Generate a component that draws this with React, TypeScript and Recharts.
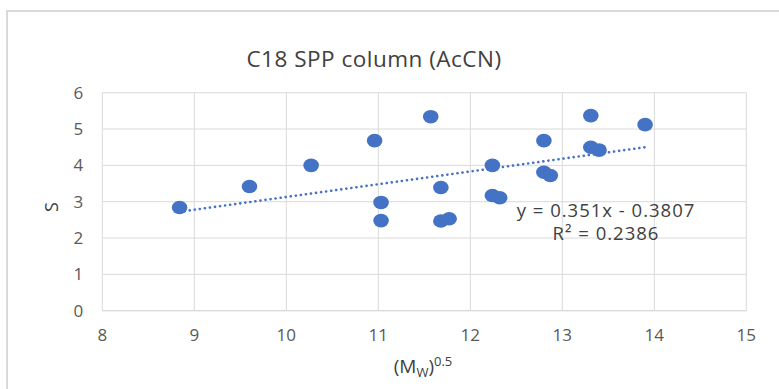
import React from 'react';
import { ScatterChart, Scatter, XAxis, YAxis, CartesianGrid, ReferenceLine } from 'recharts';

// (Mw)^0.5 values and S values
const mwRoot = [8.84, 9.6, 10.27, 10.96, 11.03, 11.03, 11.57, 11.68, 11.68, 11.77, 12.24, 12.24, 12.32, 12.8, 12.8, 12.87, 13.31, 13.31, 13.4, 13.9];
const sValues = [2.84, 3.42, 4.0, 4.68, 2.98, 2.48, 5.34, 3.39, 2.47, 2.53, 4.0, 3.17, 3.11, 4.68, 3.81, 3.72, 5.37, 4.5, 4.42, 5.12];

const xTicks = [8, 9, 10, 11, 12, 13, 14, 15];
const yTicks = [0, 1, 2, 3, 4, 5, 6];

// linear trendline as printed on the chart
const trendSlope = 0.351;
const trendIntercept = -0.3807;
const trendEquation = 'y = 0.351x - 0.3807';
const trendR2 = 'R² = 0.2386';

const points = mwRoot.map((x, i) => ({ x, y: sValues[i] }));
const xMin = Math.min(...mwRoot);
const xMax = Math.max(...mwRoot);
const trendSegment = [
  { x: xMin, y: trendSlope * xMin + trendIntercept },
  { x: xMax, y: trendSlope * xMax + trendIntercept },
];

const BLUE = '#4472C4';
const FONT = '"Open Sans", "Liberation Sans", sans-serif';

const Dot = (props: any) => {
  const { cx, cy } = props;
  return <ellipse cx={cx} cy={cy} rx={7.8} ry={6.8} fill={BLUE} />;
};

export default function App() {
  return (
    <div style={{ position: 'absolute', left: 0, top: 0, width: 779, height: 389, overflow: 'hidden', background: '#fff', fontFamily: FONT }}>
      <div style={{ position: 'absolute', left: 6, top: 10, width: 800, height: 400, borderLeft: '2px solid #d9d9d9', borderTop: '2px solid #d9d9d9' }} />
      <ScatterChart
        width={779}
        height={389}
        margin={{ top: 92.7, right: 32.7, left: 42.3, bottom: 38.3 }}
        style={{ position: 'absolute', left: 0, top: 0 }}
      >
        <CartesianGrid stroke="#d9d9d9" />
        <XAxis
          type="number"
          dataKey="x"
          domain={[8, 15]}
          ticks={xTicks}
          height={40}
          tickSize={0}
          tickMargin={18}
          axisLine={{ stroke: '#d9d9d9' }}
          tick={{ fill: '#595959', fontSize: 17, fontFamily: FONT }}
        />
        <YAxis
          type="number"
          dataKey="y"
          domain={[0, 6]}
          ticks={yTicks}
          width={60}
          tickSize={0}
          tickMargin={19}
          axisLine={false}
          tick={{ fill: '#595959', fontSize: 17, fontFamily: FONT }}
        />
        <ReferenceLine
          segment={trendSegment}
          stroke={BLUE}
          strokeWidth={2.6}
          strokeDasharray="0.1 5"
          strokeLinecap="round"
        />
        <Scatter data={points} fill={BLUE} shape={Dot} isAnimationActive={false} />
      </ScatterChart>
      <div style={{ position: 'absolute', left: 0, width: 748, top: 43, textAlign: 'center', fontSize: 22.5, letterSpacing: 0.5, color: '#404040', whiteSpace: 'nowrap' }}>
        C18 SPP column (AcCN)
      </div>
      <div style={{ position: 'absolute', left: 41, top: 190, fontSize: 18, color: '#404040', transform: 'rotate(-90deg)', transformOrigin: '10px 12px' }}>
        S
      </div>
      <div style={{ position: 'absolute', left: 300, width: 246, top: 353, textAlign: 'center', fontSize: 19, color: '#404040', whiteSpace: 'nowrap', lineHeight: '26px' }}>
        (M<span style={{ fontSize: 13, position: 'relative', top: 4 }}>W</span>)<span style={{ fontSize: 13, position: 'relative', top: -7 }}>0.5</span>
      </div>
      <div style={{ position: 'absolute', left: 494, width: 224, top: 198, textAlign: 'center', fontSize: 18.5, letterSpacing: 1, color: '#404040', whiteSpace: 'nowrap', lineHeight: '23px' }}>
        {trendEquation}
        <br />
        {trendR2}
      </div>
    </div>
  );
}
